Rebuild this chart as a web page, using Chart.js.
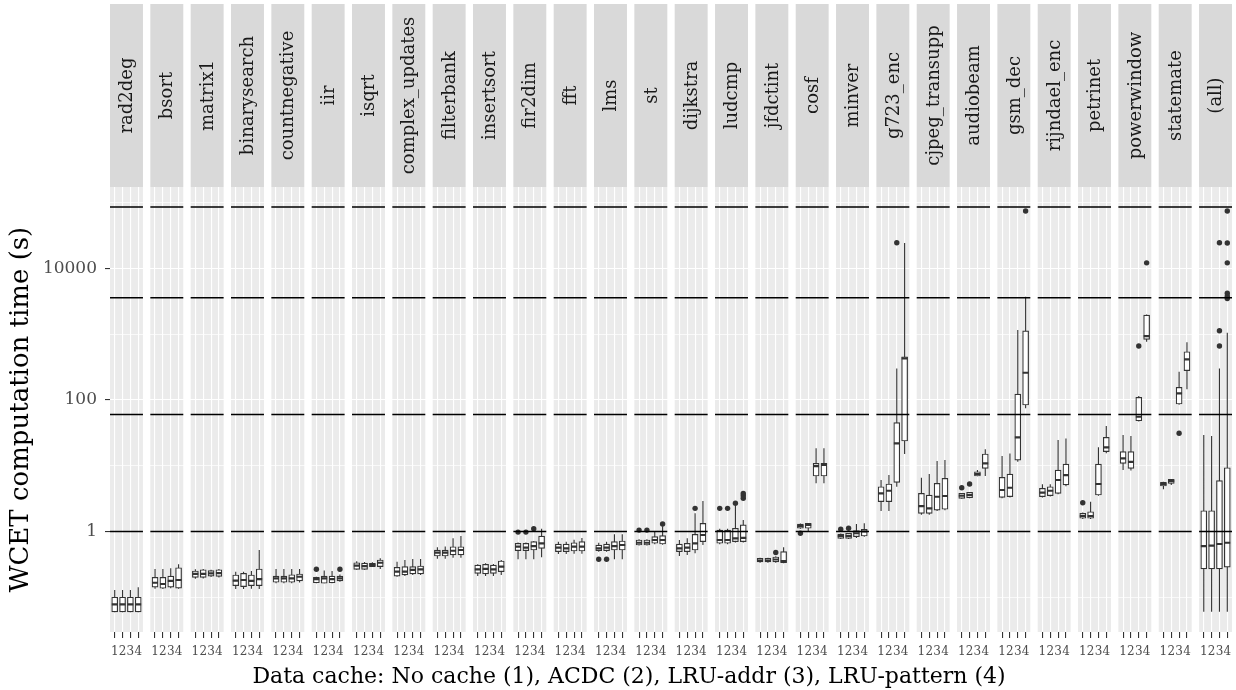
<!DOCTYPE html>
<html>
<head>
<meta charset="utf-8">
<title>WCET computation time per benchmark</title>
<script src="https://cdn.jsdelivr.net/npm/chart.js@4.4.1/dist/chart.umd.min.js"></script>
<style>
  html, body { margin: 0; padding: 0; background: #fff; }
  #wrap { width: 1236px; height: 690px; }
</style>
</head>
<body>
<div id="wrap"><canvas id="wcetChart" width="1236" height="690"></canvas></div>
<script>
// benchmarks, one facet each
const benchmarks = ['rad2deg', 'bsort', 'matrix1', 'binarysearch', 'countnegative', 'iir', 'isqrt',
  'complex_updates', 'filterbank', 'insertsort', 'fir2dim', 'fft', 'lms', 'st', 'dijkstra', 'ludcmp',
  'jfdctint', 'cosf', 'minver', 'g723_enc', 'cjpeg_transupp', 'audiobeam', 'gsm_dec', 'rijndael_enc',
  'petrinet', 'powerwindow', 'statemate', '(all)'];

// data cache variants inside each facet
const cacheLabels = ['1', '2', '3', '4'];
const xTitle = 'Data cache: No cache (1), ACDC (2), LRU-addr (3), LRU-pattern (4)';

// y axis
const yTickValues = [1, 100, 10000];
const yTickLabels = ['1', '100', '10000'];
const yGridValues = [0.1, 1, 10, 100, 1000, 10000, 100000];

// reference lines: 1 s, 1 min, 1 h, 1 day
const refLines = [1, 60, 3600, 86400];

// box statistics (seconds), one row per benchmark, one column per cache
const whiskerLow = [
  [0.059, 0.059, 0.059, 0.059], [0.135, 0.134, 0.137, 0.135], [0.191, 0.193, 0.203, 0.200],
  [0.133, 0.133, 0.135, 0.133], [0.163, 0.163, 0.163, 0.168], [0.163, 0.163, 0.163, 0.172],
  [0.262, 0.262, 0.288, 0.270], [0.205, 0.210, 0.218, 0.218], [0.386, 0.386, 0.40, 0.40],
  [0.210, 0.210, 0.210, 0.218], [0.378, 0.378, 0.378, 0.405], [0.455, 0.455, 0.46, 0.46],
  [0.49, 0.49, 0.378, 0.378], [0.61, 0.61, 0.64, 0.63], [0.424, 0.44, 0.466, 0.623],
  [0.64, 0.64, 0.68, 0.68], [0.335, 0.335, 0.335, 0.33], [1.10, 1.0, 5.41, 5.41],
  [0.77, 0.77, 0.80, 0.83], [2.05, 2.05, 4.8, 15.1], [1.8, 1.8, 2.05, 2.1],
  [3.15, 3.2, 6.9, 6.98], [3.2, 3.3, 11.5, 74.8], [3.3, 3.4, 3.7, 4.9],
  [1.55, 1.55, 3.5, 15.5], [8.62, 8.5, 47, 771], [4.38, 5.1, 85, 146],
  [0.06, 0.06, 0.06, 0.06]
];
const lowerQuartile = [
  [0.060, 0.060, 0.060, 0.060], [0.142, 0.137, 0.142, 0.138], [0.201, 0.201, 0.210, 0.208],
  [0.150, 0.145, 0.150, 0.150], [0.169, 0.169, 0.169, 0.177], [0.166, 0.163, 0.166, 0.177],
  [0.266, 0.266, 0.292, 0.292], [0.210, 0.218, 0.226, 0.226], [0.424, 0.424, 0.44, 0.44],
  [0.231, 0.226, 0.231, 0.245], [0.51, 0.51, 0.523, 0.555], [0.493, 0.493, 0.505, 0.505],
  [0.51, 0.51, 0.523, 0.523], [0.623, 0.623, 0.662, 0.645], [0.493, 0.493, 0.523, 0.70],
  [0.662, 0.662, 0.70, 0.70], [0.344, 0.344, 0.344, 0.335], [1.12, 1.12, 6.98, 6.98],
  [0.788, 0.788, 0.834, 0.854], [2.84, 2.84, 5.6, 23.8], [1.89, 1.89, 2.12, 2.18],
  [3.20, 3.27, 6.98, 9.15], [3.31, 3.38, 12.2, 84], [3.38, 3.50, 3.81, 5.10],
  [1.59, 1.59, 3.59, 16.4], [10.9, 9.15, 48.4, 838], [4.92, 5.41, 86.9, 279],
  [0.269, 0.269, 0.269, 0.286]
];
const medians = [
  [0.078, 0.078, 0.078, 0.078], [0.166, 0.159, 0.177, 0.183], [0.226, 0.226, 0.231, 0.233],
  [0.179, 0.183, 0.177, 0.188], [0.194, 0.194, 0.194, 0.205], [0.188, 0.194, 0.188, 0.194],
  [0.302, 0.298, 0.310, 0.335], [0.245, 0.245, 0.260, 0.266], [0.476, 0.476, 0.51, 0.523],
  [0.266, 0.270, 0.266, 0.292], [0.587, 0.567, 0.60, 0.662], [0.567, 0.555, 0.587, 0.587],
  [0.555, 0.567, 0.60, 0.623], [0.675, 0.675, 0.743, 0.743], [0.555, 0.567, 0.662, 0.885],
  [0.743, 0.743, 0.788, 0.80], [0.36, 0.36, 0.375, 0.355], [1.21, 1.26, 9.9, 10.3],
  [0.854, 0.854, 0.94, 1.0], [3.81, 4.17, 21.9, 431], [2.44, 2.25, 3.38, 3.47],
  [3.50, 3.59, 7.49, 10.9], [4.28, 4.63, 27.1, 260], [3.89, 4.17, 6.07, 7.23],
  [1.72, 1.72, 5.28, 19.1], [13.0, 11.5, 55.7, 940], [5.28, 5.86, 126, 416],
  [0.601, 0.608, 0.645, 0.675]
];
const upperQuartile = [
  [0.100, 0.100, 0.100, 0.100], [0.201, 0.201, 0.210, 0.281], [0.251, 0.262, 0.254, 0.262],
  [0.218, 0.231, 0.218, 0.269], [0.210, 0.210, 0.220, 0.226], [0.201, 0.210, 0.210, 0.210],
  [0.335, 0.330, 0.328, 0.369], [0.285, 0.292, 0.292, 0.299], [0.523, 0.523, 0.587, 0.587],
  [0.309, 0.317, 0.309, 0.356], [0.662, 0.662, 0.70, 0.854], [0.645, 0.645, 0.675, 0.70],
  [0.623, 0.645, 0.70, 0.717], [0.743, 0.743, 0.834, 0.864], [0.645, 0.662, 0.906, 1.33],
  [1.05, 1.05, 1.12, 1.26], [0.391, 0.391, 0.41, 0.493], [1.30, 1.33, 10.9, 10.9],
  [0.916, 0.94, 1.03, 1.08], [4.80, 5.28, 45.2, 456], [3.81, 3.59, 5.41, 6.44],
  [3.81, 3.95, 8.11, 15.1], [6.67, 7.49, 123, 1130], [4.54, 4.80, 8.62, 10.6],
  [1.89, 2.0, 10.6, 27.1], [16.4, 16.4, 110, 1960], [5.60, 6.22, 156, 543],
  [2.07, 2.07, 5.93, 9.33]
];
const whiskerHigh = [
  [0.129, 0.129, 0.129, 0.142], [0.269, 0.269, 0.276, 0.317], [0.266, 0.268, 0.262, 0.268],
  [0.245, 0.245, 0.250, 0.523], [0.269, 0.269, 0.269, 0.269], [0.205, 0.255, 0.250, 0.222],
  [0.352, 0.345, 0.340, 0.391], [0.347, 0.369, 0.382, 0.382], [0.575, 0.59, 0.788, 0.855],
  [0.317, 0.330, 0.320, 0.369], [0.68, 0.68, 0.72, 1.10], [0.70, 0.70, 0.75, 0.80],
  [0.675, 0.70, 0.906, 0.906], [0.76, 0.76, 1.0, 1.2], [0.743, 0.788, 1.89, 2.91],
  [1.1, 1.1, 2.53, 1.5], [0.40, 0.40, 0.42, 0.575], [1.32, 1.35, 18.4, 18.4],
  [0.93, 0.95, 1.30, 1.33], [6.07, 7.23, 303, 24500], [6.58, 7.49, 11.8, 12.2],
  [3.85, 4.0, 8.6, 17.8], [14.1, 15.4, 1160, 3720], [5.22, 5.22, 24.6, 26.1],
  [1.95, 2.84, 19.1, 40.2], [29.4, 28.3, 115, 2000], [5.7, 6.3, 269, 755],
  [29.4, 28.3, 303, 1060]
];

// outliers: [benchmark index, cache index, seconds]
const outliers = [
  [5, 0, 0.266], [5, 3, 0.266],
  [10, 0, 0.98], [10, 1, 0.98], [10, 2, 1.10],
  [12, 0, 0.378], [12, 1, 0.378],
  [13, 0, 1.05], [13, 1, 1.05], [13, 3, 1.30],
  [14, 2, 2.25],
  [15, 0, 2.25], [15, 1, 2.25], [15, 2, 2.7], [15, 3, 3.2], [15, 3, 3.5], [15, 3, 3.8],
  [16, 2, 0.48],
  [17, 0, 0.94],
  [18, 0, 1.08], [18, 1, 1.12],
  [19, 2, 24700],
  [21, 0, 4.63], [21, 1, 5.28],
  [22, 3, 75000],
  [24, 0, 2.74],
  [25, 2, 663], [25, 3, 12200],
  [26, 2, 31.2],
  [27, 2, 24700], [27, 2, 1130], [27, 2, 663],
  [27, 3, 75000], [27, 3, 24500], [27, 3, 12200], [27, 3, 4200], [27, 3, 3800], [27, 3, 3500]
];

// layout of the facets on one linear x axis
const FACET_STEP = 5.142;
const BOX_HALF = 0.375;
const STRIP_TOP = 4;
const SERIF = "'DejaVu Serif', serif";

function facetLeft(f) { return f * FACET_STEP + 0.4; }
function facetRight(f) { return f * FACET_STEP + 4.6; }
function boxX(f, c) { return f * FACET_STEP + c + 1; }

// datasets
const tickPositions = [];
const whiskerData = [];
const boxData = [];
const medianData = [];
benchmarks.forEach((name, f) => {
    cacheLabels.forEach((lab, c) => {
        const x = boxX(f, c);
        tickPositions.push(x);
        whiskerData.push({x: x, y: whiskerLow[f][c]}, {x: x, y: whiskerHigh[f][c]}, {x: x, y: null});
        boxData.push({x: x, y: [lowerQuartile[f][c], upperQuartile[f][c]]});
        medianData.push({x: x - BOX_HALF, y: medians[f][c]}, {x: x + BOX_HALF, y: medians[f][c]}, {x: x + BOX_HALF, y: null});
    });
});
const outlierData = outliers.map(o => ({x: boxX(o[0], o[1]), y: o[2]}));

const refData = [];
benchmarks.forEach((name, f) => {
    refLines.forEach(v => {
        refData.push({x: facetLeft(f), y: v}, {x: facetRight(f), y: v}, {x: facetRight(f), y: null});
    });
});

// grey panels, facet strips and the x axis title
const facetPanels = {
    id: 'facetPanels',
    beforeDraw(chart) {
        const {ctx, chartArea, scales: {x}} = chart;
        ctx.save();
        ctx.fillStyle = '#ffffff';
        ctx.fillRect(0, 0, chart.width, chart.height);
        benchmarks.forEach((name, f) => {
            const l = x.getPixelForValue(facetLeft(f));
            const r = x.getPixelForValue(facetRight(f));
            ctx.fillStyle = '#EBEBEB';
            ctx.fillRect(l, chartArea.top, r - l, chartArea.bottom - chartArea.top);
            ctx.fillStyle = '#D9D9D9';
            ctx.fillRect(l, STRIP_TOP, r - l, chartArea.top - STRIP_TOP);

            ctx.save();
            ctx.translate((l + r) / 2, (STRIP_TOP + chartArea.top) / 2);
            ctx.rotate(-Math.PI / 2);
            ctx.fillStyle = '#1A1A1A';
            ctx.font = "18px " + SERIF;
            ctx.textAlign = 'center';
            ctx.textBaseline = 'middle';
            ctx.fillText(name, 0, 1);
            ctx.restore();
        });

        // x axis title (sits left of the panel centre in the original)
        ctx.fillStyle = '#000000';
        ctx.font = "22px " + SERIF;
        ctx.textAlign = 'center';
        ctx.textBaseline = 'alphabetic';
        ctx.fillText(xTitle, 629, 683);
        ctx.restore();
    }
};

function noPadding(s) {
    s.paddingTop = 0;
    s.paddingBottom = 0;
    s.paddingLeft = 0;
    s.paddingRight = 0;
}

const ctx = document.getElementById('wcetChart').getContext('2d');
new Chart(ctx, {
    type: 'bar',
    data: {
        datasets: [{
            type: 'line',
            label: 'reference',
            data: refData,
            borderColor: '#000000',
            borderWidth: 1.5,
            pointRadius: 0,
            spanGaps: false,
            order: 0
        }, {
            type: 'scatter',
            label: 'outliers',
            data: outlierData,
            backgroundColor: '#333333',
            borderWidth: 0,
            pointRadius: 2.7,
            order: 1
        }, {
            type: 'line',
            label: 'median',
            data: medianData,
            borderColor: '#333333',
            borderWidth: 2.2,
            borderCapStyle: 'butt',
            pointRadius: 0,
            spanGaps: false,
            order: 2
        }, {
            type: 'bar',
            label: 'box',
            data: boxData,
            backgroundColor: '#ffffff',
            borderColor: '#333333',
            borderWidth: 1.2,
            borderSkipped: false,
            barThickness: 6,
            grouped: false,
            order: 3
        }, {
            type: 'line',
            label: 'whisker',
            data: whiskerData,
            borderColor: '#333333',
            borderWidth: 1.1,
            pointRadius: 0,
            spanGaps: false,
            order: 4
        }]
    },
    options: {
        responsive: false,
        devicePixelRatio: 1,
        animation: false,
        layout: {
            padding: {top: 187, right: 2.5, bottom: 0, left: 0}
        },
        plugins: {
            legend: {display: false},
            tooltip: {enabled: false}
        },
        scales: {
            x: {
                type: 'linear',
                min: facetLeft(0),
                max: facetRight(benchmarks.length - 1),
                offset: false,
                afterBuildTicks: s => { s.ticks = tickPositions.map(v => ({value: v})); },
                afterFit: s => { s.height = 58; noPadding(s); },
                grid: {
                    offset: false,
                    color: '#ffffff',
                    lineWidth: 1.1,
                    tickColor: '#333333',
                    tickLength: 6,
                    tickWidth: 1.1
                },
                border: {display: false},
                ticks: {
                    autoSkip: false,
                    maxRotation: 0,
                    padding: 7,
                    color: '#4D4D4D',
                    font: {family: SERIF, size: 12},
                    callback: (v, i) => cacheLabels[i % cacheLabels.length]
                },
                title: {display: false}
            },
            y: {
                type: 'logarithmic',
                min: 0.0296,
                max: 174000,
                afterBuildTicks: s => { s.ticks = yGridValues.map(v => ({value: v})); },
                afterFit: s => { s.width = 110; noPadding(s); },
                grid: {
                    color: '#ffffff',
                    lineWidth: c => (c.tick && yTickValues.includes(c.tick.value)) ? 1.1 : 0.7,
                    tickColor: c => (c.tick && yTickValues.includes(c.tick.value)) ? '#333333' : 'rgba(0,0,0,0)',
                    tickLength: 5,
                    tickWidth: 1.1
                },
                border: {display: false},
                ticks: {
                    autoSkip: false,
                    padding: 8,
                    color: '#4D4D4D',
                    font: {family: SERIF, size: 17},
                    callback: v => {
                        const i = yTickValues.indexOf(v);
                        return i >= 0 ? yTickLabels[i] : '';
                    }
                },
                title: {
                    display: true,
                    text: 'WCET computation time (s)',
                    color: '#000000',
                    font: {family: SERIF, size: 26},
                    padding: {top: 6, bottom: 0}
                }
            }
        }
    },
    plugins: [facetPanels]
});
</script>
</body>
</html>
